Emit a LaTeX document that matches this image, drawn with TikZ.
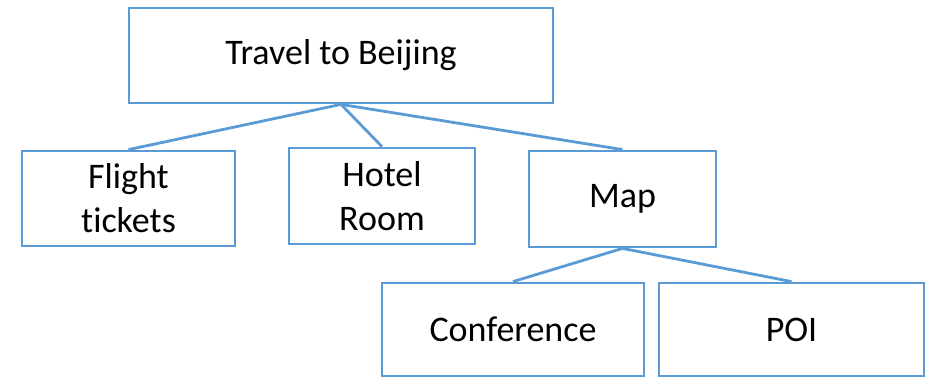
\documentclass[tikz,border=0pt]{standalone}
\usepackage{fontspec}
\setmainfont[Ligatures={NoCommon}]{Carlito}
\definecolor{boxblue}{HTML}{5B9BD5}
\begin{document}
\begin{tikzpicture}[x=1pt,y=-1pt,
  box/.style={draw=boxblue,line width=2.8pt,inner sep=0pt,align=center,
    font=\fontsize{36}{44}\selectfont,text=black},
  link/.style={draw=boxblue,line width=2.8pt}]
\useasboundingbox (0,0) rectangle (925,378);
\node[box,minimum width=424pt,minimum height=95pt] (top) at (341,55.5) {Travel to Beijing};
\node[box,minimum width=213pt,minimum height=95pt] (flight) at (128.5,198.5) {Flight\\tickets};
\node[box,minimum width=186pt,minimum height=96pt] (hotel) at (382,196) {Hotel\\Room};
\node[box,minimum width=187pt,minimum height=96pt] (map) at (622.5,199) {Map};
\node[box,minimum width=262pt,minimum height=93pt] (conf) at (513,329.5) {Conference};
\node[box,minimum width=265pt,minimum height=93pt] (poi) at (791.5,329.5) {POI};
\draw[link] (top.south) -- (flight.north);
\draw[link] (top.south) -- (hotel.north);
\draw[link] (top.south) -- (map.north);
\draw[link] (map.south) -- (conf.north);
\draw[link] (map.south) -- (poi.north);
\end{tikzpicture}
\end{document}
